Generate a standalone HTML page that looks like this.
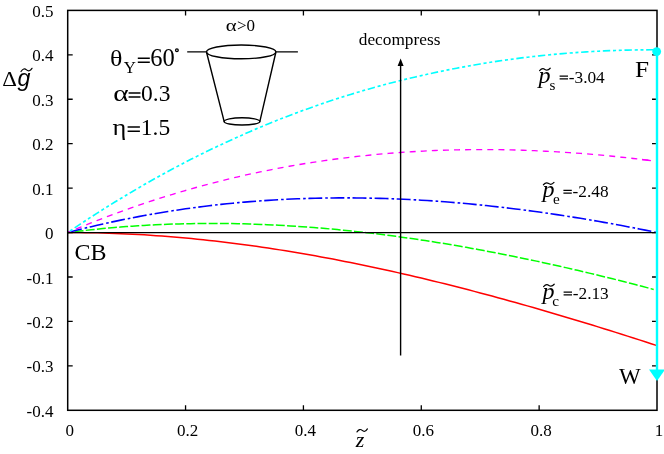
<!DOCTYPE html>
<html><head><meta charset="utf-8"><title>chart</title>
<style>
html,body{margin:0;padding:0;background:#fff;}
svg{display:block;will-change:transform;}
text{font-family:"Liberation Serif",serif;fill:#000;}
.s{font-family:"Liberation Sans",sans-serif;}
</style></head><body>
<svg width="664" height="454" viewBox="0 0 664 454">
<rect width="664" height="454" fill="#fff"/>
<!-- curves -->
<path d="M67.70 232.57 L73.59 232.57 L79.49 232.60 L85.38 232.66 L91.27 232.75 L97.17 232.87 L103.06 233.02 L108.95 233.20 L114.84 233.41 L120.74 233.64 L126.63 233.90 L132.52 234.20 L138.42 234.51 L144.31 234.86 L150.20 235.23 L156.09 235.63 L161.99 236.06 L167.88 236.51 L173.77 236.99 L179.67 237.50 L185.56 238.03 L191.45 238.58 L197.35 239.17 L203.24 239.77 L209.13 240.41 L215.02 241.06 L220.92 241.75 L226.81 242.45 L232.70 243.19 L238.60 243.94 L244.49 244.72 L250.38 245.52 L256.28 246.35 L262.17 247.20 L268.06 248.07 L273.95 248.96 L279.85 249.88 L285.74 250.82 L291.63 251.78 L297.53 252.76 L303.42 253.77 L309.31 254.79 L315.21 255.84 L321.10 256.91 L326.99 258.00 L332.88 259.11 L338.78 260.24 L344.67 261.39 L350.56 262.56 L356.46 263.75 L362.35 264.96 L368.24 266.19 L374.14 267.44 L380.03 268.70 L385.92 269.99 L391.81 271.29 L397.71 272.61 L403.60 273.95 L409.49 275.31 L415.39 276.69 L421.28 278.08 L427.17 279.49 L433.07 280.92 L438.96 282.36 L444.85 283.82 L450.74 285.30 L456.64 286.79 L462.53 288.30 L468.42 289.82 L474.32 291.36 L480.21 292.92 L486.10 294.49 L492.00 296.07 L497.89 297.67 L503.78 299.29 L509.67 300.91 L515.57 302.55 L521.46 304.21 L527.35 305.88 L533.25 307.56 L539.14 309.26 L545.03 310.97 L550.93 312.69 L556.82 314.42 L562.71 316.17 L568.61 317.92 L574.50 319.69 L580.39 321.47 L586.28 323.27 L592.18 325.07 L598.07 326.88 L603.96 328.71 L609.86 330.55 L615.75 332.39 L621.64 334.25 L627.54 336.11 L633.43 337.99 L639.32 339.88 L645.21 341.77 L651.11 343.67 L657.00 345.59" fill="none" stroke="#ff0000" stroke-width="1.5"/>
<path d="M67.70 232.57 L73.56 231.82 L79.42 231.11 L85.28 230.43 L91.14 229.79 L97.00 229.18 L102.86 228.60 L108.72 228.05 L114.58 227.53 L120.44 227.05 L126.30 226.60 L132.16 226.17 L138.02 225.78 L143.88 225.43 L149.74 225.10 L155.60 224.80 L161.46 224.53 L167.32 224.29 L173.18 224.09 L179.04 223.91 L184.90 223.76 L190.76 223.64 L196.62 223.55 L202.48 223.49 L208.34 223.46 L214.20 223.46 L220.06 223.48 L225.92 223.53 L231.78 223.61 L237.64 223.72 L243.50 223.86 L249.36 224.02 L255.22 224.21 L261.08 224.43 L266.94 224.67 L272.80 224.94 L278.66 225.24 L284.52 225.56 L290.38 225.91 L296.24 226.28 L302.10 226.68 L307.96 227.10 L313.82 227.55 L319.68 228.03 L325.54 228.53 L331.40 229.05 L337.26 229.60 L343.12 230.17 L348.98 230.76 L354.84 231.38 L360.70 232.02 L366.56 232.69 L372.42 233.38 L378.28 234.09 L384.14 234.82 L390.00 235.58 L395.86 236.36 L401.72 237.16 L407.58 237.98 L413.44 238.82 L419.30 239.69 L425.16 240.57 L431.02 241.48 L436.88 242.41 L442.74 243.35 L448.60 244.32 L454.46 245.31 L460.32 246.32 L466.18 247.35 L472.04 248.39 L477.90 249.46 L483.76 250.55 L489.62 251.65 L495.48 252.77 L501.34 253.92 L507.20 255.08 L513.06 256.25 L518.92 257.45 L524.78 258.66 L530.64 259.89 L536.50 261.14 L542.36 262.41 L548.22 263.69 L554.08 264.99 L559.94 266.30 L565.80 267.63 L571.66 268.98 L577.52 270.34 L583.38 271.72 L589.24 273.12 L595.10 274.53 L600.96 275.95 L606.82 277.39 L612.68 278.84 L618.54 280.31 L624.40 281.79 L630.26 283.29 L636.12 284.80 L641.98 286.32 L647.84 287.86 L653.70 289.41" fill="none" stroke="#00ff00" stroke-width="1.5" stroke-dasharray="8.9 2.3" stroke-dashoffset="4.2"/>
<path d="M67.70 232.57 L73.59 231.03 L79.49 229.54 L85.38 228.08 L91.27 226.66 L97.17 225.28 L103.06 223.93 L108.95 222.62 L114.84 221.35 L120.74 220.11 L126.63 218.91 L132.52 217.75 L138.42 216.62 L144.31 215.52 L150.20 214.46 L156.09 213.44 L161.99 212.45 L167.88 211.49 L173.77 210.57 L179.67 209.69 L185.56 208.83 L191.45 208.01 L197.35 207.23 L203.24 206.48 L209.13 205.76 L215.02 205.07 L220.92 204.42 L226.81 203.79 L232.70 203.21 L238.60 202.65 L244.49 202.12 L250.38 201.63 L256.28 201.17 L262.17 200.74 L268.06 200.34 L273.95 199.97 L279.85 199.63 L285.74 199.32 L291.63 199.05 L297.53 198.80 L303.42 198.58 L309.31 198.40 L315.21 198.24 L321.10 198.11 L326.99 198.01 L332.88 197.94 L338.78 197.90 L344.67 197.88 L350.56 197.90 L356.46 197.94 L362.35 198.01 L368.24 198.11 L374.14 198.23 L380.03 198.38 L385.92 198.56 L391.81 198.77 L397.71 199.00 L403.60 199.26 L409.49 199.55 L415.39 199.86 L421.28 200.20 L427.17 200.56 L433.07 200.95 L438.96 201.36 L444.85 201.80 L450.74 202.27 L456.64 202.75 L462.53 203.27 L468.42 203.80 L474.32 204.36 L480.21 204.95 L486.10 205.56 L492.00 206.19 L497.89 206.84 L503.78 207.52 L509.67 208.22 L515.57 208.94 L521.46 209.69 L527.35 210.46 L533.25 211.25 L539.14 212.06 L545.03 212.89 L550.93 213.74 L556.82 214.62 L562.71 215.51 L568.61 216.43 L574.50 217.37 L580.39 218.33 L586.28 219.30 L592.18 220.30 L598.07 221.32 L603.96 222.36 L609.86 223.41 L615.75 224.49 L621.64 225.58 L627.54 226.70 L633.43 227.83 L639.32 228.98 L645.21 230.15 L651.11 231.33 L657.00 232.54" fill="none" stroke="#0000ff" stroke-width="1.6" stroke-dasharray="13.9 3 2.6 2.59" stroke-dashoffset="-0.6"/>
<path d="M67.70 232.57 L73.53 230.09 L79.36 227.66 L85.20 225.27 L91.03 222.93 L96.86 220.62 L102.69 218.35 L108.53 216.13 L114.36 213.94 L120.19 211.80 L126.02 209.69 L131.86 207.63 L137.69 205.60 L143.52 203.62 L149.35 201.67 L155.18 199.76 L161.02 197.90 L166.85 196.07 L172.68 194.28 L178.51 192.52 L184.35 190.81 L190.18 189.13 L196.01 187.50 L201.84 185.89 L207.68 184.33 L213.51 182.80 L219.34 181.32 L225.17 179.86 L231.00 178.45 L236.84 177.07 L242.67 175.73 L248.50 174.42 L254.33 173.15 L260.17 171.91 L266.00 170.71 L271.83 169.55 L277.66 168.42 L283.50 167.33 L289.33 166.27 L295.16 165.24 L300.99 164.25 L306.82 163.30 L312.66 162.37 L318.49 161.49 L324.32 160.63 L330.15 159.81 L335.99 159.02 L341.82 158.27 L347.65 157.55 L353.48 156.86 L359.32 156.20 L365.15 155.58 L370.98 154.98 L376.81 154.42 L382.64 153.89 L388.48 153.40 L394.31 152.93 L400.14 152.50 L405.97 152.09 L411.81 151.72 L417.64 151.38 L423.47 151.07 L429.30 150.78 L435.14 150.53 L440.97 150.31 L446.80 150.12 L452.63 149.96 L458.46 149.82 L464.30 149.72 L470.13 149.64 L475.96 149.60 L481.79 149.58 L487.63 149.59 L493.46 149.63 L499.29 149.69 L505.12 149.79 L510.95 149.91 L516.79 150.06 L522.62 150.23 L528.45 150.44 L534.28 150.67 L540.12 150.92 L545.95 151.21 L551.78 151.52 L557.61 151.85 L563.45 152.21 L569.28 152.60 L575.11 153.01 L580.94 153.45 L586.77 153.91 L592.61 154.40 L598.44 154.91 L604.27 155.45 L610.10 156.01 L615.94 156.60 L621.77 157.21 L627.60 157.84 L633.43 158.50 L639.27 159.18 L645.10 159.88 L650.93 160.61" fill="none" stroke="#ff00ff" stroke-width="1.35" stroke-dasharray="6 5.1" stroke-dashoffset="2.1"/>
<path d="M642.00 159.50 L644.98 159.86 L647.95 160.23 L650.93 160.61" fill="none" stroke="#ff00ff" stroke-width="1.35"/>
<path d="M67.70 232.57 L73.59 228.58 L79.49 224.64 L85.38 220.76 L91.27 216.92 L97.17 213.13 L103.06 209.39 L108.95 205.70 L114.84 202.06 L120.74 198.47 L126.63 194.93 L132.52 191.43 L138.42 187.98 L144.31 184.58 L150.20 181.23 L156.09 177.93 L161.99 174.67 L167.88 171.47 L173.77 168.30 L179.67 165.19 L185.56 162.12 L191.45 159.10 L197.35 156.13 L203.24 153.20 L209.13 150.31 L215.02 147.48 L220.92 144.68 L226.81 141.94 L232.70 139.24 L238.60 136.58 L244.49 133.97 L250.38 131.40 L256.28 128.88 L262.17 126.41 L268.06 123.97 L273.95 121.58 L279.85 119.24 L285.74 116.93 L291.63 114.68 L297.53 112.46 L303.42 110.29 L309.31 108.16 L315.21 106.07 L321.10 104.03 L326.99 102.02 L332.88 100.06 L338.78 98.15 L344.67 96.27 L350.56 94.43 L356.46 92.64 L362.35 90.89 L368.24 89.18 L374.14 87.51 L380.03 85.87 L385.92 84.29 L391.81 82.74 L397.71 81.23 L403.60 79.76 L409.49 78.33 L415.39 76.94 L421.28 75.59 L427.17 74.27 L433.07 72.98 L438.96 71.73 L444.85 70.51 L450.74 69.33 L456.64 68.19 L462.53 67.08 L468.42 66.00 L474.32 64.97 L480.21 63.96 L486.10 63.00 L492.00 62.06 L497.89 61.17 L503.78 60.31 L509.67 59.48 L515.57 58.69 L521.46 57.94 L527.35 57.21 L533.25 56.53 L539.14 55.88 L545.03 55.26 L550.93 54.67 L556.82 54.12 L562.71 53.61 L568.61 53.12 L574.50 52.67 L580.39 52.26 L586.28 51.87 L592.18 51.52 L598.07 51.21 L603.96 50.92 L609.86 50.67 L615.75 50.45 L621.64 50.26 L627.54 50.10 L633.43 49.98 L639.32 49.88 L645.21 49.82 L651.11 49.79 L657.00 49.79" fill="none" stroke="#00ffff" stroke-width="1.65" stroke-dasharray="7.4 2.8 3.1 2.7 3.0 2.7" stroke-dashoffset="-8.4"/>

<!-- zero line -->
<path d="M67.7 232.57 H657.0" stroke="#000" stroke-width="1.35" fill="none"/>
<!-- decompress arrow -->
<path d="M400.6 355.5 V64" stroke="#000" stroke-width="1.4" fill="none"/>
<path d="M400.6 58.5 L403.6 66 L397.6 66 Z" fill="#000"/>
<!-- frame -->
<rect x="67.7" y="10.4" width="589.30" height="399.90" fill="none" stroke="#000" stroke-width="1.5"/>
<g stroke="#000" stroke-width="1.3" fill="none">
<path d="M185.56 410.30 v-5 M185.56 10.40 v5"/>
<path d="M303.42 410.30 v-5 M303.42 10.40 v5"/>
<path d="M421.28 410.30 v-5 M421.28 10.40 v5"/>
<path d="M539.14 410.30 v-5 M539.14 10.40 v5"/>
<path d="M67.70 54.83 h5 M657.00 54.83 h-5"/>
<path d="M67.70 99.27 h5 M657.00 99.27 h-5"/>
<path d="M67.70 143.70 h5 M657.00 143.70 h-5"/>
<path d="M67.70 188.13 h5 M657.00 188.13 h-5"/>
<path d="M67.70 232.57 h5 M657.00 232.57 h-5"/>
<path d="M67.70 277.00 h5 M657.00 277.00 h-5"/>
<path d="M67.70 321.43 h5 M657.00 321.43 h-5"/>
<path d="M67.70 365.87 h5 M657.00 365.87 h-5"/>
</g>
<!-- cyan vertical arrow -->
<path d="M657 51.6 V371" stroke="#00ffff" stroke-width="2.4" fill="none"/>
<path d="M649 369.6 L665 369.6 L657 381 Z" fill="#00ffff"/>
<circle cx="656.7" cy="51.6" r="4.4" fill="#00ffff"/>
<!-- axis labels -->
<g font-size="17">
<text x="53.5" y="16.9" text-anchor="end">0.5</text>
<text x="53.5" y="61.3" text-anchor="end">0.4</text>
<text x="53.5" y="105.8" text-anchor="end">0.3</text>
<text x="53.5" y="150.2" text-anchor="end">0.2</text>
<text x="53.5" y="194.6" text-anchor="end">0.1</text>
<text x="53.5" y="239.1" text-anchor="end">0</text>
<text x="53.5" y="283.5" text-anchor="end">-0.1</text>
<text x="53.5" y="327.9" text-anchor="end">-0.2</text>
<text x="53.5" y="372.4" text-anchor="end">-0.3</text>
<text x="53.5" y="416.8" text-anchor="end">-0.4</text>
<text x="69.7" y="436" text-anchor="middle">0</text>
<text x="187.6" y="436" text-anchor="middle">0.2</text>
<text x="305.4" y="436" text-anchor="middle">0.4</text>
<text x="423.3" y="436" text-anchor="middle">0.6</text>
<text x="541.1" y="436" text-anchor="middle">0.8</text>
<text x="659.0" y="436" text-anchor="middle">1</text>
</g>
<!-- y title -->
<text transform="translate(2.20 85.80) scale(1.04 1)" font-size="22">&#916;</text>
<text x="17.4" y="86.3" font-size="23.2" class="s" font-style="italic">g</text>
<path d="M21.00 71.50 q2.75 -4.16 5.50 -1.60 t5.50 -1.60" stroke="#000" stroke-width="1.2" fill="none" stroke-linecap="round"/>
<!-- x title -->
<text x="355.8" y="447" font-size="22" font-style="italic">z</text>
<path d="M357.00 431.90 q2.60 -3.90 5.20 -1.50 t5.20 -1.50" stroke="#000" stroke-width="1.2" fill="none" stroke-linecap="round"/>
<!-- params -->
<text transform="translate(110.00 66.00) scale(1.08 1)" font-size="24">&#952;</text>
<text x="123.8" y="72.5" font-size="16.8">Y</text>
<path d="M137.8 58.2 H149.8 M137.8 62.2 H149.8" stroke="#000" stroke-width="1.5" fill="none"/>
<text x="150.3" y="66" font-size="24.5">60</text>
<circle cx="176.9" cy="50.2" r="1.35" fill="none" stroke="#000" stroke-width="1.3"/>
<text transform="translate(113.30 100.75) scale(1.22 1)" font-size="24">&#945;</text>
<path d="M128.6 92.9 H140.5 M128.6 96.9 H140.5" stroke="#000" stroke-width="1.5" fill="none"/>
<text x="141.0" y="100.75" font-size="23.5">0.3</text>
<text transform="translate(112.60 134.75) scale(1.1 1)" font-size="24">&#951;</text>
<path d="M127.6 127.0 H139.9 M127.6 131.2 H139.9" stroke="#000" stroke-width="1.5" fill="none"/>
<text x="140.8" y="134.75" font-size="23.5">1.5</text>
<!-- inset -->
<text transform="translate(225.80 31.30) scale(1.22 1)" font-size="17">&#945;</text>
<text x="236.9" y="31.3" font-size="17">&gt;0</text>
<g stroke="#000" stroke-width="1.4" fill="none">
<path d="M187.2 51.9 H206.4 M275.9 51.9 H297.9"/>
<ellipse cx="241.2" cy="51.9" rx="34.7" ry="6.9"/>
<ellipse cx="242" cy="121.4" rx="17.9" ry="3.6"/>
<path d="M206.6 52.5 L224.2 121.6 M275.8 52.5 L259.8 121.6"/>
</g>
<!-- decompress -->
<text x="358.8" y="44.8" font-size="17" textLength="81.6" lengthAdjust="spacingAndGlyphs">decompress</text>
<!-- p labels -->
<text x="538.6" y="83.0" font-size="24" font-style="italic">p</text><path d="M539.60 70.55 q2.65 -2.99 5.30 -1.15 t5.30 -1.15" stroke="#000" stroke-width="1.2" fill="none" stroke-linecap="round"/><text x="549.4" y="89.5" font-size="15.2">s</text><path d="M559.6 76.1 H568.0 M559.6 78.9 H568.0" stroke="#000" stroke-width="1.15" fill="none"/><text x="568.76" y="83.0" font-size="17.3">-3.04</text>
<text x="542.4" y="197.2" font-size="24" font-style="italic">p</text><path d="M543.40 184.75 q2.65 -2.99 5.30 -1.15 t5.30 -1.15" stroke="#000" stroke-width="1.2" fill="none" stroke-linecap="round"/><text x="553.1" y="203.7" font-size="15.2">e</text><path d="M563.4 190.3 H571.8 M563.4 193.1 H571.8" stroke="#000" stroke-width="1.15" fill="none"/><text x="572.56" y="197.2" font-size="17.3">-2.48</text>
<text x="542.6" y="299.0" font-size="24" font-style="italic">p</text><path d="M543.60 286.55 q2.65 -2.99 5.30 -1.15 t5.30 -1.15" stroke="#000" stroke-width="1.2" fill="none" stroke-linecap="round"/><text x="552.2" y="305.5" font-size="15.2">c</text><path d="M563.6 292.1 H572.0 M563.6 294.9 H572.0" stroke="#000" stroke-width="1.15" fill="none"/><text x="572.76" y="299.0" font-size="17.3">-2.13</text>
<text transform="translate(635.10 76.90) scale(1.09 1)" font-size="23.2">F</text>
<text transform="translate(618.90 383.90) scale(0.99 1)" font-size="23.2">W</text>
<text x="74.6" y="259.5" font-size="24">CB</text>
</svg>
</body></html>
